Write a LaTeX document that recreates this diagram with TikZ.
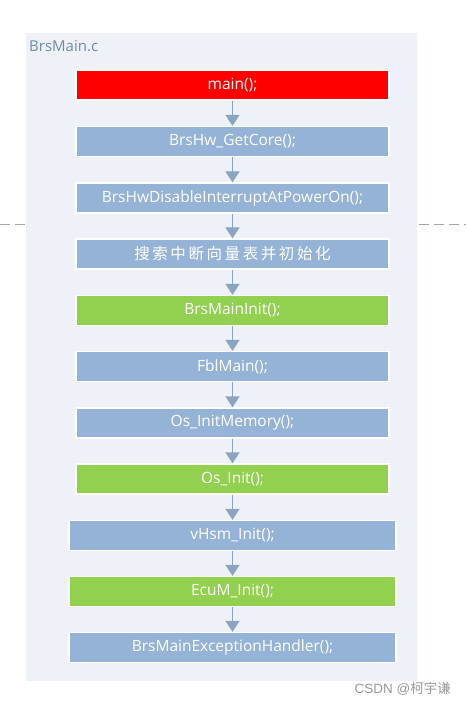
\documentclass[tikz,border=0pt]{standalone}
\usepackage{fontspec}
\setmainfont{Open Sans}
\newfontfamily\cjk{Noto Sans CJK SC}
\usetikzlibrary{arrows.meta}
\definecolor{panelbg}{HTML}{EEF2F8}
\definecolor{boxblue}{HTML}{95B3D7}
\definecolor{boxgreen}{HTML}{92D050}
\definecolor{boxred}{HTML}{FF0000}
\definecolor{arrowcol}{HTML}{8BA5C1}
\definecolor{labelcol}{HTML}{6F8BA6}
\definecolor{dashcol}{HTML}{A6A6A6}
\tikzset{
  stepbox/.style={draw=white, line width=1.2pt, fill=boxblue, text=white,
    minimum width=313pt, minimum height=30pt, inner sep=0pt,
    font=\fontsize{15.5}{18}\selectfont},
  widebox/.style={stepbox, minimum width=327pt},
  greenbox/.style={fill=boxgreen},
  flow/.style={draw=arrowcol, line width=1.4pt, -{Triangle[length=11pt,width=14pt]}}
}
\begin{document}
\begin{tikzpicture}[x=1pt,y=-1pt]
\useasboundingbox (0,0) rectangle (466,706);
\fill[panelbg] (26,33) rectangle (417,681);
\node[anchor=west, text=labelcol, font=\fontsize{15}{18}\selectfont, inner sep=0pt] (title) at (29,46) {BrsMain.c};
\coordinate (dl1) at (0,224); \coordinate (dl2) at (25,224);
\coordinate (dr1) at (419,224); \coordinate (dr2) at (466,224);
\draw[dashcol, line width=0.9pt, dash pattern=on 10pt off 5pt] (dl1) -- (dl2);
\draw[dashcol, line width=0.9pt, dash pattern=on 10pt off 5pt] (dr1) -- (dr2);
\node[stepbox, fill=boxred] (n1) at (232.5,85) {main();};
\node[stepbox] (n2) at (232.5,141.5) {BrsHw\_GetCore();};
\node[stepbox] (n3) at (232.5,198) {BrsHwDisableInterruptAtPowerOn();};
\node[stepbox, font=\cjk\fontsize{15.5}{18}\selectfont] (n4) at (232.5,254) {搜\,索\,中\,断\,向\,量\,表\,并\,初\,始\,化};
\node[stepbox, greenbox] (n5) at (232.5,310.5) {BrsMainInit();};
\node[stepbox] (n6) at (232.5,366.5) {FblMain();};
\node[stepbox] (n7) at (232.5,423) {Os\_InitMemory();};
\node[stepbox, greenbox] (n8) at (232.5,479) {Os\_Init();};
\node[widebox] (n9) at (232.5,535.5) {vHsm\_Init();};
\node[widebox, greenbox] (n10) at (232.5,591.5) {EcuM\_Init();};
\node[widebox] (n11) at (232.5,647.5) {BrsMainExceptionHandler();};
\foreach \a/\b in {n1/n2,n2/n3,n3/n4,n4/n5,n5/n6,n6/n7,n7/n8,n8/n9,n9/n10,n10/n11}
  \draw[flow] (\a.south) -- (\b.north);
\node[anchor=east, text=gray!80, inner sep=0pt] (wm) at (451,689) {\fontspec{Liberation Sans}\fontsize{13.5}{16}\selectfont CSDN @{\cjk 柯宇谦}};
\end{tikzpicture}
\end{document}
